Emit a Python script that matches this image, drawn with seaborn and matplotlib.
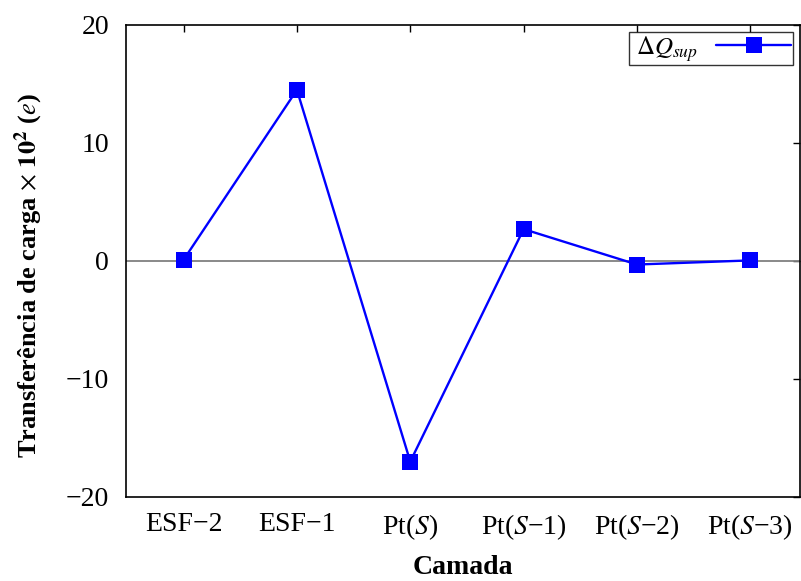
import matplotlib
matplotlib.use("Agg")
import matplotlib.pyplot as plt
import seaborn as sns
import numpy as np

categories = ["ESF\u22122", "ESF\u22121", "Pt($S$)", "Pt($S$\u22121)", "Pt($S$\u22122)", "Pt($S$\u22123)"]
positions = [1, 2, 3, 4, 5, 6]
dq_sup = [0.1, 14.5, -17.0, 2.7, -0.3, 0.05]
yticks = [-20, -10, 0, 10, 20]

sns.set_theme(style="white")
plt.rcParams['font.family'] = ['Liberation Serif', 'DejaVu Serif']
plt.rcParams['mathtext.fontset'] = 'stix'
plt.rcParams['text.color'] = 'black'
plt.rcParams['axes.labelcolor'] = 'black'
plt.rcParams['xtick.color'] = 'black'
plt.rcParams['ytick.color'] = 'black'

fig = plt.figure(figsize=(8.01, 5.81), dpi=100)
ax = fig.add_axes([0.157, 0.1446, 0.842, 0.8124])

ax.axhline(0, color='#808080', lw=1.3, zorder=1)
sns.lineplot(x=positions, y=dq_sup, ax=ax, color='#0000ff', lw=1.7,
             marker='s', markersize=11, markeredgewidth=0,
             label=r'$\ \Delta Q_{sup}$', zorder=3)

ax.set_xlim(0.49, 6.44)
ax.set_ylim(-20, 20)
ax.set_xticks(positions)
ax.set_xticklabels(categories)
ax.set_yticks(yticks)
ax.set_yticklabels([str(t).replace('-', '\u2212') for t in yticks])

ax.tick_params(direction='in', length=5, width=1, colors='black',
               top=True, right=True, labelsize=20, labelcolor='black')
ax.tick_params(axis='x', pad=11)
ax.tick_params(axis='y', pad=12)
for s in ax.spines.values():
    s.set_color('black')
    s.set_linewidth(1.2)

ax.set_xlabel('Camada', fontsize=20, fontweight='bold', labelpad=9, color='black')
ax.set_ylabel(r'Transferência de carga $\times$ $\mathbf{10^2}$ ($e$)',
              fontsize=19, fontweight='bold', color='black')
ax.yaxis.set_label_coords(-0.120, 0.468)

leg = ax.legend(loc='upper right', markerfirst=False, fontsize=18,
                frameon=True, fancybox=False, edgecolor='black',
                borderpad=0.05, handlelength=3.0, borderaxespad=0.3,
                handletextpad=0.75, labelspacing=0.2)
leg.get_frame().set_linewidth(1.0)
for t in leg.get_texts():
    t.set_color('black')

fig.savefig('out.png', dpi=100)
